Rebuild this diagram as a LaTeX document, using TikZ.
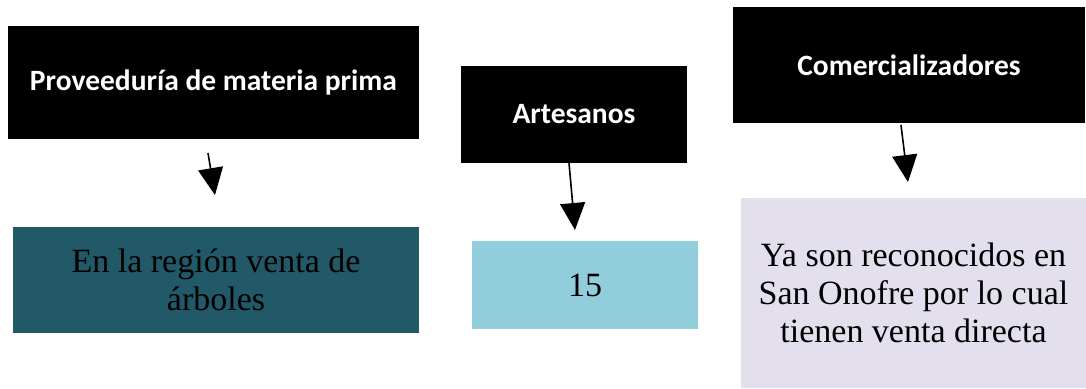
\documentclass[tikz,border=0pt]{standalone}
\usepackage{fontspec}
\setmainfont{Liberation Serif}
\newfontfamily\hdfont{Carlito}
\usetikzlibrary{arrows.meta}
\definecolor{tealdark}{HTML}{215968}
\definecolor{aqualight}{HTML}{92CDDC}
\definecolor{lavender}{HTML}{E4DFEC}
\tikzset{
  head/.style={fill=black, text=white, font=\hdfont\bfseries\fontsize{29.5}{34}\selectfont,
    inner sep=0pt, outer sep=0pt, align=center},
  body/.style={text=black, font=\fontsize{34}{38}\selectfont,
    inner sep=0pt, outer sep=0pt, align=center},
  arr/.style={line width=1.6pt, -{Triangle[width=25pt,length=27pt]}}
}
\begin{document}
\begin{tikzpicture}[x=1pt,y=-1pt]
\useasboundingbox (0,0) rectangle (1086,388);
% header boxes
\node[head, minimum width=411pt, minimum height=113pt] (prov) at (213.5,82.5) {Proveeduría de materia prima};
\node[head, minimum width=226pt, minimum height=97pt] (art) at (574,114.5) {Artesanos};
\node[head, minimum width=352pt, minimum height=116pt] (com) at (909,65) {Comercializadores};
% body boxes
\node[body, fill=tealdark, minimum width=406pt, minimum height=106pt] (reg) at (216,280) {En la región venta de\\árboles};
\node[body, fill=aqualight, minimum width=226pt, minimum height=88pt] (num) at (585,285) {15};
\node[body, fill=lavender, minimum width=345pt, minimum height=190pt] (rec) at (913.5,293) {Ya son reconocidos en\\San Onofre por lo cual\\tienen venta directa};
% arrow ends
\coordinate (a1s) at (208,153);
\coordinate (a1e) at (215,195);
\coordinate (a2s) at (569,163);
\coordinate (a2e) at (575,230);
\coordinate (a3s) at (901,125);
\coordinate (a3e) at (908,182);
\draw[arr] (a1s) -- (a1e);
\draw[arr] (a2s) -- (a2e);
\draw[arr] (a3s) -- (a3e);
\end{tikzpicture}
\end{document}
